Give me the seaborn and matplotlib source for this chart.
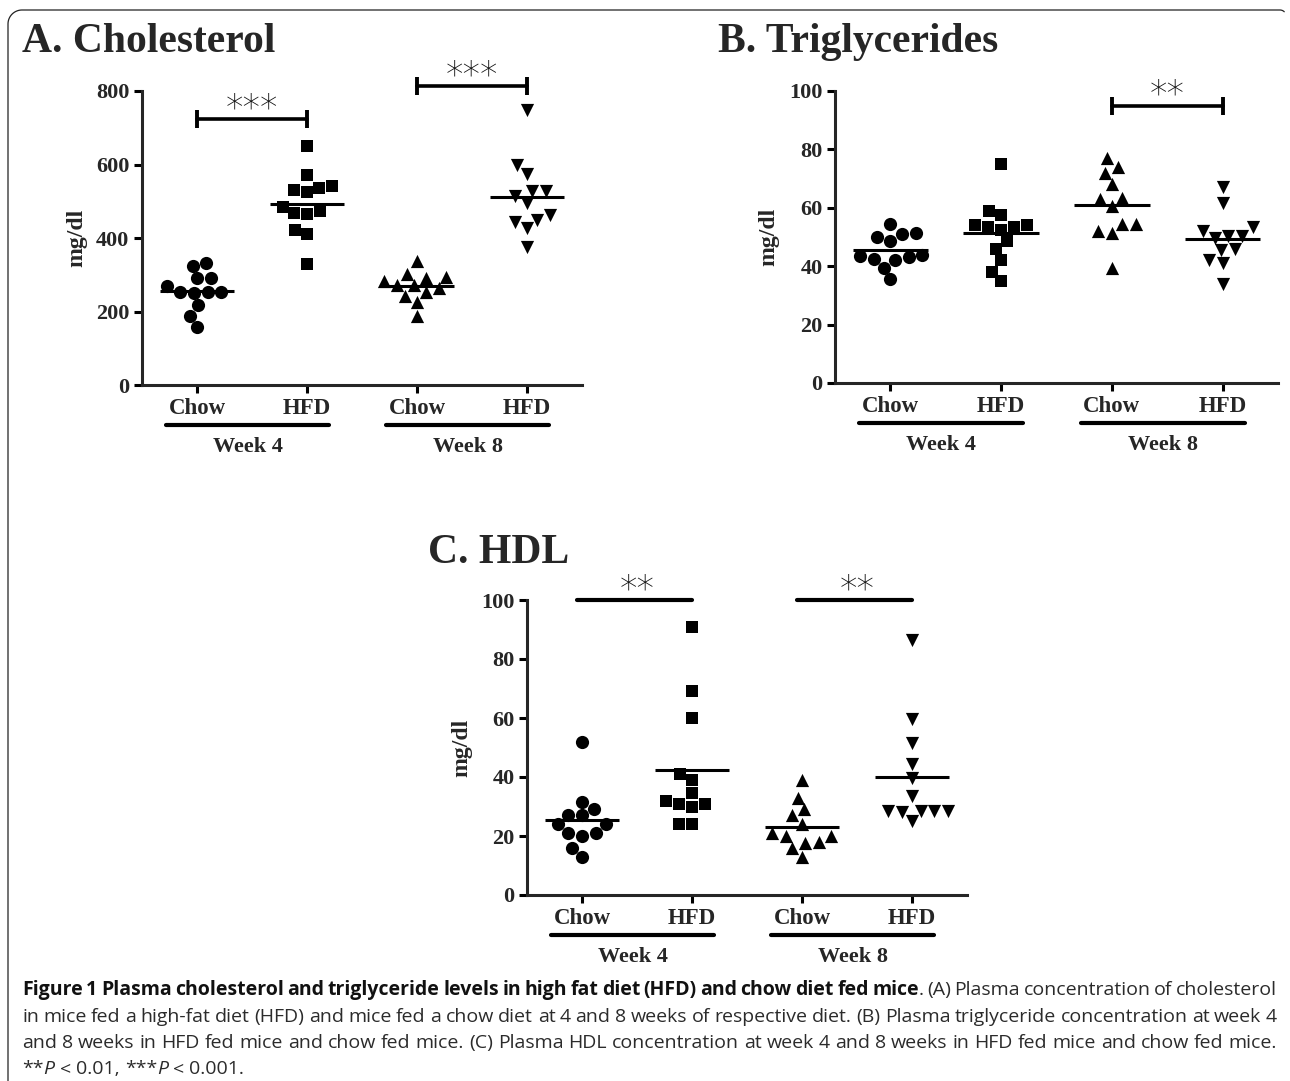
import numpy as np
import pandas as pd
import matplotlib
matplotlib.use("Agg")
import matplotlib.pyplot as plt
import seaborn as sns
from matplotlib.transforms import ScaledTranslation, IdentityTransform
from matplotlib.lines import Line2D

# ---------------- data ----------------
groups = ["W4 Chow", "W4 HFD", "W8 Chow", "W8 HFD"]
tick_labels = ["Chow", "HFD", "Chow", "HFD"]
week_labels = ["Week 4", "Week 8"]

chol_w4_chow = [331, 324, 290, 290, 269, 254, 254, 251, 254, 217, 188, 157]
chol_w4_hfd = [650, 571, 541, 537, 530, 525, 485, 474, 467, 465, 423, 412, 328]
chol_w8_chow = [338, 303, 294, 290, 284, 272, 272, 263, 254, 242, 226, 188]
chol_w8_hfd = [749, 598, 573, 528, 528, 514, 495, 462, 450, 444, 426, 376]

tg_w4_chow = [54.5, 51, 51.5, 50, 48.5, 44, 43.5, 42.5, 42, 43, 39.5, 35.5]
tg_w4_hfd = [75, 59, 57.5, 54, 54, 53.5, 53.5, 52.5, 48.5, 46, 42, 38, 35]
tg_w8_chow = [77, 74, 72, 68, 63.5, 63, 60.5, 54.5, 54.5, 52, 51.5, 39.5]
tg_w8_hfd = [67, 61.5, 53.5, 52, 50.5, 49.5, 50.5, 46, 45.5, 42, 41, 34]

hdl_w4_chow = [52, 31.5, 29, 27, 27, 24, 24, 21, 20, 21, 16, 13]
hdl_w4_hfd = [91, 69, 60, 41, 39, 34.5, 32, 31, 31, 30, 24, 24]
hdl_w8_chow = [39, 33, 29, 27, 24, 21, 20, 20, 18, 17.5, 16, 13]
hdl_w8_hfd = [86.5, 59.5, 51.5, 44.5, 39.5, 33.5, 28.5, 28.5, 28.5, 28, 28.5, 25]

chol_ticks = [0, 200, 400, 600, 800]
pct_ticks = [0, 20, 40, 60, 80, 100]

# ---------------- style ----------------
sns.set_style("ticks")
plt.rcParams["font.family"] = ["Liberation Serif", "DejaVu Serif"]
plt.rcParams["axes.linewidth"] = 2.2

W, H = 1290, 1081
fig = plt.figure(figsize=(W / 100, H / 100), dpi=100)

markers = ["o", "s", "^", "v"]
msizes = [9.5, 9, 9.5, 9.5]


def make_df(arrs):
    rows = []
    for g, a in zip(groups, arrs):
        for v in a:
            rows.append((g, v))
    return pd.DataFrame(rows, columns=["group", "value"])


panels = [
    dict(title="A. Cholesterol", title_px=(22, 42),
         arrs=[chol_w4_chow, chol_w4_hfd, chol_w8_chow, chol_w8_hfd],
         ticks=chol_ticks, rect=(142, 91, 440, 294),
         sig=[(0, 1, 723, "***", True), (2, 3, 813, "***", True)]),
    dict(title="B. Triglycerides", title_px=(718, 42),
         arrs=[tg_w4_chow, tg_w4_hfd, tg_w8_chow, tg_w8_hfd],
         ticks=pct_ticks, rect=(835, 91, 443, 292),
         sig=[(2, 3, 95, "**", True)]),
    dict(title="C. HDL", title_px=(428, 553),
         arrs=[hdl_w4_chow, hdl_w4_hfd, hdl_w8_chow, hdl_w8_hfd],
         ticks=pct_ticks, rect=(527, 600, 440, 295),
         sig=[(0, 1, 100, "**", False), (2, 3, 100, "**", False)]),
]

for p in panels:
    x, ytop, w, h = p["rect"]
    ax = fig.add_axes([x / W, 1 - (ytop + h) / H, w / W, h / H])
    df = make_df(p["arrs"])
    for i, g in enumerate(groups):
        sub = df[df["group"] == g]
        sns.swarmplot(data=sub, x="group", y="value", order=groups, ax=ax,
                      marker=markers[i], size=msizes[i], color="black",
                      linewidth=0, zorder=3, clip_on=False)
    means = df.groupby("group")["value"].mean()
    for i, g in enumerate(groups):
        ax.hlines(means[g], i - 0.34, i + 0.34, color="black", lw=2.2, zorder=4)

    ax.set_xlim(-0.5, 3.5)
    ax.set_ylim(p["ticks"][0], p["ticks"][-1])
    ax.set_yticks(p["ticks"])
    ax.set_yticklabels([str(t) for t in p["ticks"]], fontsize=16, fontweight="bold")
    ax.set_xticks(range(4))
    ax.set_xticklabels(tick_labels, fontsize=16.5, fontweight="bold")
    ax.tick_params(axis="both", length=6, width=2.2, color="black", pad=3)
    ax.set_xlabel("")
    ax.set_ylabel("mg/dl", fontsize=17, fontweight="bold")
    ax.yaxis.set_label_coords(-0.125, 0.5)
    sns.despine(ax=ax)
    for s in ("left", "bottom"):
        ax.spines[s].set_linewidth(2.2)
    ax.set_facecolor("none")

    # significance bars
    for (a, b, yv, stars, caps) in p["sig"]:
        if caps:
            ax.plot([a, b], [yv, yv], color="black", lw=2.6, marker="|",
                    ms=13, mew=2.8, clip_on=False, zorder=5)
        else:
            ax.plot([a - 0.05, b], [yv, yv], color="black", lw=3,
                    solid_capstyle="round", clip_on=False, zorder=5)
        ax.annotate(stars, xy=((a + b) / 2, yv), xytext=(0, 0.5),
                    textcoords="offset points", ha="center", va="baseline",
                    fontsize=25, family="DejaVu Sans", fontweight="light",
                    color="#111111", annotation_clip=False)

    # group underlines and week labels
    t_line = ax.get_xaxis_transform() + ScaledTranslation(0, -0.40, fig.dpi_scale_trans)
    t_week = ax.get_xaxis_transform() + ScaledTranslation(0, -0.62, fig.dpi_scale_trans)
    for k, (c0, c1) in enumerate([(-0.28, 1.2), (1.72, 3.2)]):
        ax.plot([c0, c1], [0, 0], transform=t_line, color="black", lw=3,
                solid_capstyle="round", clip_on=False)
        ax.text((c0 + c1) / 2, 0, week_labels[k], transform=t_week,
                ha="center", va="center", fontsize=16, fontweight="bold")

    fig.text(p["title_px"][0] / W, 1 - p["title_px"][1] / H, p["title"],
             fontsize=30, fontweight="bold", ha="left", va="center")

# ---------------- caption ----------------
renderer = fig.canvas.get_renderer()
CAP_FONT = ["Open Sans", "DejaVu Sans"]
CAP_SIZE = 14


def seg_width(txt, weight, style):
    t = fig.text(0, 0, txt, fontsize=CAP_SIZE, family=CAP_FONT,
                 fontweight=weight, fontstyle=style)
    wpx = t.get_window_extent(renderer).width
    t.remove()
    return wpx


def draw_line(words, baseline_px, x0=22, x1=1277, justify=True):
    widths = []
    for wd in words:
        widths.append([seg_width(s, wt, st) for (s, wt, st) in wd])
    tot = sum(sum(w) for w in widths)
    if justify and len(words) > 1:
        gap = (x1 - x0 - tot) / (len(words) - 1)
    else:
        gap = seg_width("a a", "normal", "normal") - seg_width("aa", "normal", "normal")
    xc = x0
    for wd, ws in zip(words, widths):
        for (s, wt, st), wpx in zip(wd, ws):
            col = "#111111" if wt == "bold" else "#2b2b2b"
            fig.text(xc / W, 1 - baseline_px / H, s, fontsize=CAP_SIZE,
                     family=CAP_FONT, fontweight=wt, fontstyle=st,
                     ha="left", va="baseline", color=col)
            xc += wpx
        xc += gap


def plain(text, weight="normal"):
    return [[(w, weight, "normal")] for w in text.split(" ")]


bold_part = "Figure 1 Plasma cholesterol and triglyceride levels in high fat diet (HFD) and chow diet fed"
line1 = plain(bold_part, "bold") + [[("mice", "bold", "normal"), (".", "normal", "normal")]] \
    + plain("(A) Plasma concentration of cholesterol")
line2 = plain("in mice fed a high-fat diet (HFD) and mice fed a chow diet at 4 and 8 weeks of respective diet. (B) Plasma triglyceride concentration at week 4")
line3 = plain("and 8 weeks in HFD fed mice and chow fed mice. (C) Plasma HDL concentration at week 4 and 8 weeks in HFD fed mice and chow fed mice.")
line4 = [[("**", "normal", "normal"), ("P", "normal", "italic")], [("<", "normal", "normal")],
         [("0.01,", "normal", "normal")], [("***", "normal", "normal"), ("P", "normal", "italic")],
         [("<", "normal", "normal")], [("0.001.", "normal", "normal")]]

draw_line(line1, 995)
draw_line(line2, 1022)
draw_line(line3, 1048)
draw_line(line4, 1074, justify=False)

# frame: left edge, rounded top-left corner, top edge, small bend at top-right
r = 14
ytop_d = H - 10
th1 = np.linspace(np.pi, np.pi / 2, 20)
th2 = np.linspace(np.pi / 2, np.pi / 4, 8)
fx = np.concatenate([[8], 8 + r + r * np.cos(th1), 1280 + 6 * np.cos(th2)])
fy = np.concatenate([[0], ytop_d - r + r * np.sin(th1), ytop_d - 6 + 6 * np.sin(th2)])
fig.add_artist(Line2D(fx, fy, transform=IdentityTransform(), lw=0.9, color="#222222"))

fig.savefig("out.png", dpi=100)
